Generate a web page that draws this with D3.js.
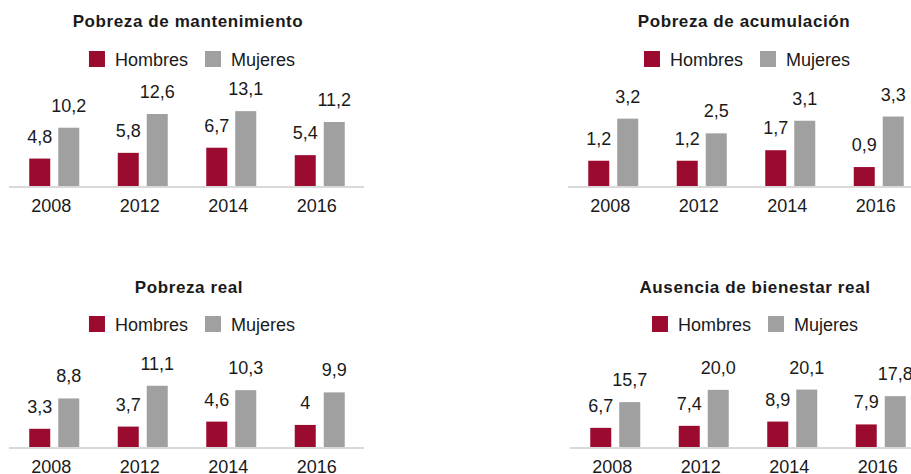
<!DOCTYPE html>
<html>
<head>
<meta charset="utf-8">
<script src="https://cdn.jsdelivr.net/npm/d3@7"></script>
<style>
  body { margin: 0; background: #fff; }
  text { font-family: "Liberation Sans", Arial, sans-serif; fill: #1a1a1a; }
</style>
</head>
<body>
<svg width="911" height="474"></svg>
<script>
var years = ["2008", "2012", "2014", "2016"];
var series = ["Hombres", "Mujeres"];

var titles = ["Pobreza de mantenimiento", "Pobreza de acumulación", "Pobreza real", "Ausencia de bienestar real"];

var mantHombres = [4.8, 5.8, 6.7, 5.4];
var mantMujeres = [10.2, 12.6, 13.1, 11.2];
var acumHombres = [1.2, 1.2, 1.7, 0.9];
var acumMujeres = [3.2, 2.5, 3.1, 3.3];
var realHombres = [3.3, 3.7, 4.6, 4];
var realMujeres = [8.8, 11.1, 10.3, 9.9];
var bienHombres = [6.7, 7.4, 8.9, 7.9];
var bienMujeres = [15.7, 20.0, 20.1, 17.8];

// labels as printed in the chart
var fmt = function(v) { return Number.isInteger(v) && v !== 20 ? String(v) : v.toFixed(1).replace(".", ","); };

var panelData = [
  [mantHombres, mantMujeres],
  [acumHombres, acumMujeres],
  [realHombres, realMujeres],
  [bienHombres, bienMujeres]
];

// layout of each small chart
var layout = [
  {x: 0,   y: 0,   base: 186, yMax: 14.0, titleX: 188, legX: 192},
  {x: 559, y: 0,   base: 186, yMax: 3.8,  titleX: 185, legX: 188},
  {x: 0,   y: 266, base: 181, yMax: 14.5, titleX: 189, legX: 192},
  {x: 561, y: 266, base: 181, yMax: 28,   titleX: 194, legX: 194}
];

var color = d3.scaleOrdinal().domain(series).range(["#9b0b2f", "#a0a0a0"]);

var svg = d3.select("svg");

var x0 = d3.scaleBand().domain(years).range([10, 364]);
var x1 = d3.scaleBand().domain(series).range([0, 50]).paddingInner(8 / 29);

layout.forEach(function(L, i) {
  var g = svg.append("g").attr("transform", "translate(" + L.x + "," + L.y + ")");
  var y = d3.scaleLinear().domain([0, L.yMax]).range([L.base, L.base - 80]);

  g.append("text")
    .attr("x", L.titleX).attr("y", 27)
    .attr("text-anchor", "middle")
    .style("font-weight", "bold").style("font-size", "17px")
    .style("letter-spacing", "0.6px")
    .text(titles[i]);

  // legend
  var leg = g.append("g");
  var lx = 0;
  series.forEach(function(s) {
    leg.append("rect").attr("x", lx).attr("y", 51).attr("width", 16).attr("height", 16).attr("fill", color(s));
    var t = leg.append("text").attr("x", lx + 26).attr("y", 66).style("font-size", "18px").text(s);
    lx += 26 + t.node().getComputedTextLength() + 17;
  });
  lx -= 17;
  leg.attr("transform", "translate(" + (L.legX - lx / 2) + "," + (i > 1 ? -1 : 0) + ")");

  // baseline
  g.append("line")
    .attr("x1", 9).attr("x2", 364)
    .attr("y1", L.base + 1).attr("y2", L.base + 1)
    .attr("stroke", "#d9d9d9").attr("stroke-width", 2);

  var rows = [];
  years.forEach(function(yr, j) {
    series.forEach(function(s, k) {
      rows.push({year: yr, s: s, v: panelData[i][k][j]});
    });
  });

  var cx = function(d) { return x0(d.year) + x0.bandwidth() / 2 - 25 + x1(d.s); };

  g.selectAll(".bar").data(rows).enter().append("rect")
    .attr("class", "bar")
    .attr("x", cx)
    .attr("y", function(d) { return y(d.v); })
    .attr("width", x1.bandwidth())
    .attr("height", function(d) { return L.base - y(d.v); })
    .attr("fill", function(d) { return color(d.s); });

  g.selectAll(".val").data(rows).enter().append("text")
    .attr("class", "val")
    .attr("x", function(d) { return cx(d) + x1.bandwidth() / 2; })
    .attr("y", function(d) { return y(d.v) - 16; })
    .attr("text-anchor", "middle")
    .style("font-size", "18px")
    .text(function(d) { return fmt(d.v); });

  g.selectAll(".yr").data(years).enter().append("text")
    .attr("class", "yr")
    .attr("x", function(d) { return x0(d) + x0.bandwidth() / 2 - 3; })
    .attr("y", L.base + 26)
    .attr("text-anchor", "middle")
    .style("font-size", "18px")
    .text(function(d) { return d; });
});
</script>
</body>
</html>
